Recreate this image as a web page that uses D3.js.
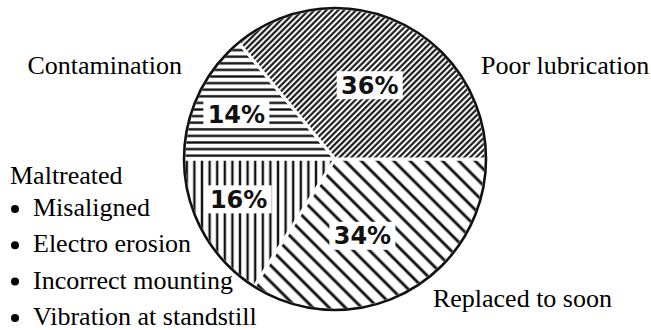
<!DOCTYPE html>
<html><head><meta charset="utf-8">
<script src="https://cdn.jsdelivr.net/npm/d3@7"></script>
<style>body{margin:0;background:#fff}</style>
</head><body>
<svg id="c" width="651" height="330"></svg>
<script>
const categories = ["Replaced to soon", "Maltreated", "Contamination", "Poor lubrication"];
const values = [34, 16, 14, 36];
const maltreatedItems = ["Misaligned", "Electro erosion", "Incorrect mounting", "Vibration at standstill"];

const svg = d3.select("#c");
const cx = 335, cy = 159, R = 151;

const defs = svg.append("defs");
function hatch(id, angle, gap, sw) {
  const p = defs.append("pattern").attr("id", id).attr("patternUnits", "userSpaceOnUse")
    .attr("width", 40).attr("height", gap).attr("patternTransform", `rotate(${angle})`);
  p.append("rect").attr("width", 40).attr("height", gap).attr("fill", "#fff");
  p.append("line").attr("x1", 0).attr("x2", 40).attr("y1", gap / 2).attr("y2", gap / 2)
    .attr("stroke", "#111").attr("stroke-width", sw);
}
hatch("h34", 45, 11.5, 2.7);
hatch("h16", 90, 7.6, 2.5);
hatch("h14", 0, 6.6, 2.3);
hatch("h36", -45, 4.2, 2.0);
const fills = ["url(#h34)", "url(#h16)", "url(#h14)", "url(#h36)"];

const pie = d3.pie().sort(null).startAngle(Math.PI / 2).endAngle(Math.PI / 2 + 2 * Math.PI);
const arcs = pie(values);
const arc = d3.arc().innerRadius(0).outerRadius(R);

const g = svg.append("g").attr("transform", `translate(${cx},${cy})`);
g.selectAll("path.s").data(arcs).join("path").attr("class", "s")
  .attr("d", arc).attr("fill", (d, i) => fills[i])
  .attr("stroke", "#fff").attr("stroke-width", 3).attr("stroke-linejoin", "round");
g.append("circle").attr("r", R).attr("fill", "none").attr("stroke", "#111").attr("stroke-width", 2.6);

// percentage labels
const lab = g.selectAll("g.lab").data(arcs).join("g").attr("class", "lab")
  .attr("transform", d => {
    const r = d.value > 25 ? 0.54 * R : 0.7 * R;
    const a = (d.startAngle + d.endAngle) / 2 + (d.index === 0 ? 0.16 : (d.index === 1 ? 0.08 : 0));
    return `translate(${r * Math.sin(a) + (d.index === 2 ? -3 : 0)},${-r * Math.cos(a) + (d.index === 1 ? -3 : 0)})`;
  });
lab.append("rect").attr("x", -33).attr("y", -14).attr("width", 66).attr("height", 28).attr("fill", "#fff");
lab.append("text").attr("text-anchor", "middle").attr("dy", "0.36em")
  .attr("font-family", "DejaVu Sans").attr("font-weight", "bold").attr("font-size", 24)
  .attr("fill", "#111").text(d => d.value + "%");

// category texts
const tf = "Liberation Serif", fs = 26;
function txt(x, y, s, anchor) {
  svg.append("text").attr("x", x).attr("y", y).attr("font-family", tf).attr("font-size", fs)
    .attr("fill", "#000").attr("text-anchor", anchor || "start").text(s);
}
txt(182, 74, categories[2], "end");
txt(481, 74, categories[3]);
txt(612, 307, categories[0], "end");
txt(10, 184, categories[1]);
maltreatedItems.forEach((s, i) => {
  const y = 216 + i * 36.3;
  svg.append("circle").attr("cx", 15).attr("cy", y - 7).attr("r", 4).attr("fill", "#000");
  txt(33, y, s);
});
</script>
</body></html>
